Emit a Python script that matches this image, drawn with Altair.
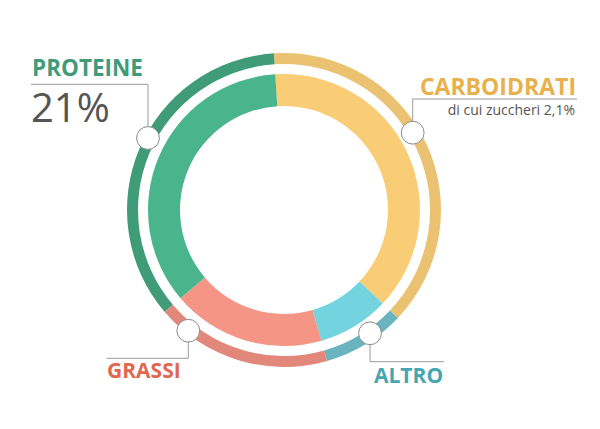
import math
import altair as alt
import pandas as pd

# ---- data ----
categories = ["Carboidrati", "Altro", "Grassi", "Proteine"]
shares = [38.1, 8.5, 18.2, 35.2]          # share of the ring (percent)
inner_colors = ["#F9CD76", "#73D3DE", "#F49585", "#4AB48D"]
outer_colors = ["#EBC272", "#6AB4C0", "#E1887B", "#3F9B78"]

label_titles = ["PROTEINE", "CARBOIDRATI", "GRASSI", "ALTRO"]
label_colors = ["#3F9B78", "#E8B14C", "#E0684F", "#45A6B2"]
proteine_value = "21%"
carbo_note = "di cui zuccheri 2,1%"

df = pd.DataFrame({
    "category": categories,
    "share": shares,
    "idx": list(range(len(categories))),
    "inner": inner_colors,
    "outer": outer_colors,
})
one = pd.DataFrame({"k": [0]})

# ---- layout (plot-area pixels; page = plot + 8) ----
W, H = 584, 413
CX, CY = 276, 202
start = -3.7 * math.pi / 180

base = alt.Chart(df).encode(
    theta=alt.Theta("share:Q", stack=True,
                    scale=alt.Scale(range=[start, start + 2 * math.pi])),
    order=alt.Order("idx:Q"),
    x=alt.value(CX),
    y=alt.value(CY),
)
inner = base.mark_arc(radius=136, radius2=104).encode(
    color=alt.Color("inner:N", scale=None))
outer = base.mark_arc(radius=157, radius2=146).encode(
    color=alt.Color("outer:N", scale=None))

LINE = "#9a9a9a"

def rule(x1, y1, x2, y2):
    return alt.Chart(one).mark_rule(color=LINE, strokeWidth=1).encode(
        x=alt.value(x1), y=alt.value(y1), x2=alt.value(x2), y2=alt.value(y2))

def text(t, x, y, size, color, align="left", weight="normal"):
    return alt.Chart(one).mark_text(
        font="Open Sans", fontSize=size, fontWeight=weight, color=color,
        align=align, baseline="alphabetic").encode(
        x=alt.value(x), y=alt.value(y), text=alt.value(t))

def dot(x, y):
    return alt.Chart(one).mark_point(
        shape="circle", fill="white", fillOpacity=1, opacity=1,
        stroke="#8a8a8a", strokeWidth=1, size=520).encode(
        x=alt.value(x), y=alt.value(y))

lines = [
    rule(140, 118.5, 140, 76.3), rule(23, 76.3, 140, 76.3),
    rule(404.7, 113, 404.7, 91), rule(404.7, 91, 569, 91),
    rule(180.3, 334, 180.3, 350.3), rule(98.7, 350.3, 180.3, 350.3),
    rule(362, 337, 362, 353.7), rule(362, 353.7, 436, 353.7),
]
dots = [dot(140, 130), dot(404.7, 124.7), dot(180.3, 322.7), dot(362, 325.3)]
texts = [
    text(label_titles[0], 24, 68, 22.5, label_colors[0], weight="bold"),
    text(proteine_value, 23, 113.5, 40, "#555555", weight=500),
    text(label_titles[1], 568, 87, 23, label_colors[1], align="right", weight="bold"),
    text(carbo_note, 567, 106.5, 14, "#555555", align="right"),
    text(label_titles[2], 99, 369.7, 21, label_colors[2], weight="bold"),
    text(label_titles[3], 366, 374.7, 21, label_colors[3], weight="bold"),
]

chart = alt.layer(outer, inner, *lines, *dots, *texts).properties(
    width=W, height=H, padding=0,
    autosize=alt.AutoSizeParams(type="none"),
    background="white",
).configure_view(stroke=None)

chart.save("out.html", embed_options={"renderer": "svg", "actions": False})
